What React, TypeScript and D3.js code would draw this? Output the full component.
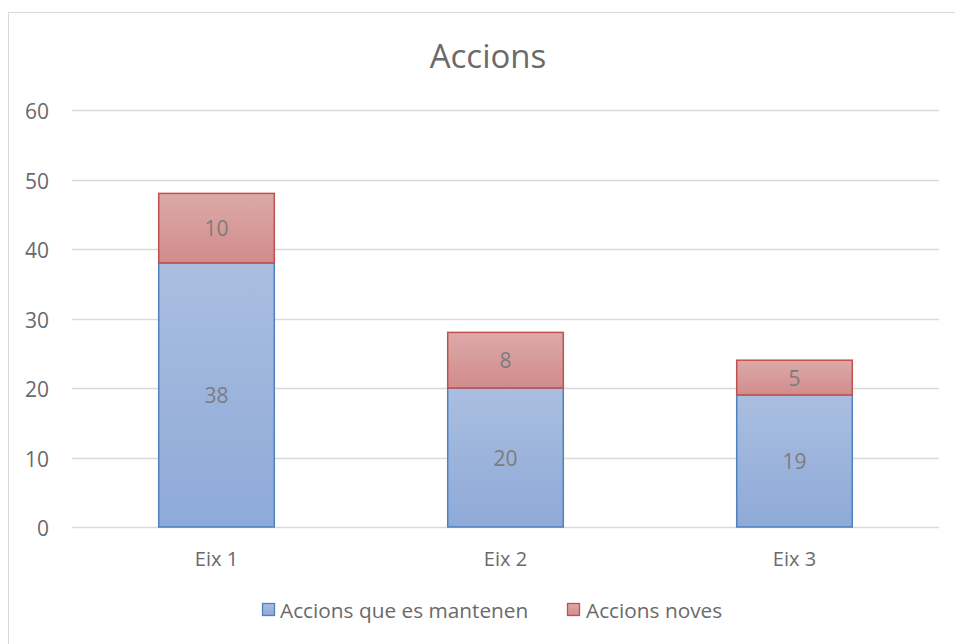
import React from "react";
import * as d3 from "d3";

const categories = ["Eix 1", "Eix 2", "Eix 3"];
const seriesNames = ["Accions que es mantenen", "Accions noves"];
const mantenen = [38, 20, 19];
const noves = [10, 8, 5];
const yTicks = [0, 10, 20, 30, 40, 50, 60];

const W = 955;
const H = 644;
const font = "'Open Sans', Lato, sans-serif";
const txt = "#6a6a6a";

export default function App() {
  const left = 72, right = 939, top = 110, bottom = 527;
  const x = d3.scaleBand<string>().domain(categories).range([left, right]).paddingInner(0.6).paddingOuter(0.3);
  const y = d3.scaleLinear().domain([0, 60]).range([bottom, top]);
  const rows = categories.map((c, i) => ({ cat: c, mantenen: mantenen[i], noves: noves[i] }));
  const stack = d3.stack<any>().keys(["mantenen", "noves"])(rows);
  const fills = ["url(#gBlue)", "url(#gRed)"];
  const strokes = ["#4f81bd", "#c0504d"];
  const bw = x.bandwidth();
  return (
    <svg width={W} height={H} style={{ position: "absolute", left: 0, top: 0 }}>
      <defs>
        <linearGradient id="gBlue" x1="0" y1="0" x2="0" y2="1">
          <stop offset="0" stopColor="#aabee0" />
          <stop offset="1" stopColor="#8eaad8" />
        </linearGradient>
        <linearGradient id="gRed" x1="0" y1="0" x2="0" y2="1">
          <stop offset="0" stopColor="#dcaaa9" />
          <stop offset="1" stopColor="#d18c8b" />
        </linearGradient>
      </defs>
      <rect x={0} y={0} width={W} height={H} fill="#fff" />
      <rect x={8.5} y={12.5} width={970} height={660} fill="#fff" stroke="#d9d9d9" strokeWidth={1} />
      <text x={488} y={55} textAnchor="middle" dominantBaseline="central" fontFamily={font} fontSize={33} fill={txt}>Accions</text>
      {yTicks.map((t) => (
        <g key={t}>
          <line x1={left} x2={right} y1={Math.round(y(t)) + 0.5} y2={Math.round(y(t)) + 0.5} stroke="#d9d9d9" strokeWidth={1.3} />
          <text x={49} y={y(t) + 1} textAnchor="end" dominantBaseline="central" fontFamily={font} fontSize={21} fill={txt}>{t}</text>
        </g>
      ))}
      {stack.map((s, si) =>
        s.map((d, i) => {
          const cat = categories[i];
          const x0 = x(cat)!;
          const y0 = y(d[1]);
          const h = y(d[0]) - y(d[1]);
          const v = d[1] - d[0];
          return (
            <g key={si + "-" + i}>
              <rect x={x0} y={y0} width={bw} height={h} fill={fills[si]} stroke={strokes[si]} strokeWidth={1.5} />
              <text x={x0 + bw / 2} y={y0 + h / 2} textAnchor="middle" dominantBaseline="central" fontFamily={font} fontSize={21} fill="#7c7c7c">{v}</text>
            </g>
          );
        })
      )}
      {categories.map((c) => (
        <text key={c} x={x(c)! + bw / 2} y={558} textAnchor="middle" dominantBaseline="central" fontFamily={font} fontSize={20} fill={txt}>{c}</text>
      ))}
      <g>
        <rect x={262.5} y={603.5} width={12} height={12} fill={fills[0]} stroke={strokes[0]} strokeWidth={1.3} />
        <text x={280} y={610} dominantBaseline="central" fontFamily={font} fontSize={20.8} fill={txt}>{seriesNames[0]}</text>
        <rect x={567.5} y={603.5} width={12} height={12} fill={fills[1]} stroke={strokes[1]} strokeWidth={1.3} />
        <text x={586} y={610} dominantBaseline="central" fontFamily={font} fontSize={20.8} fill={txt}>{seriesNames[1]}</text>
      </g>
    </svg>
  );
}
